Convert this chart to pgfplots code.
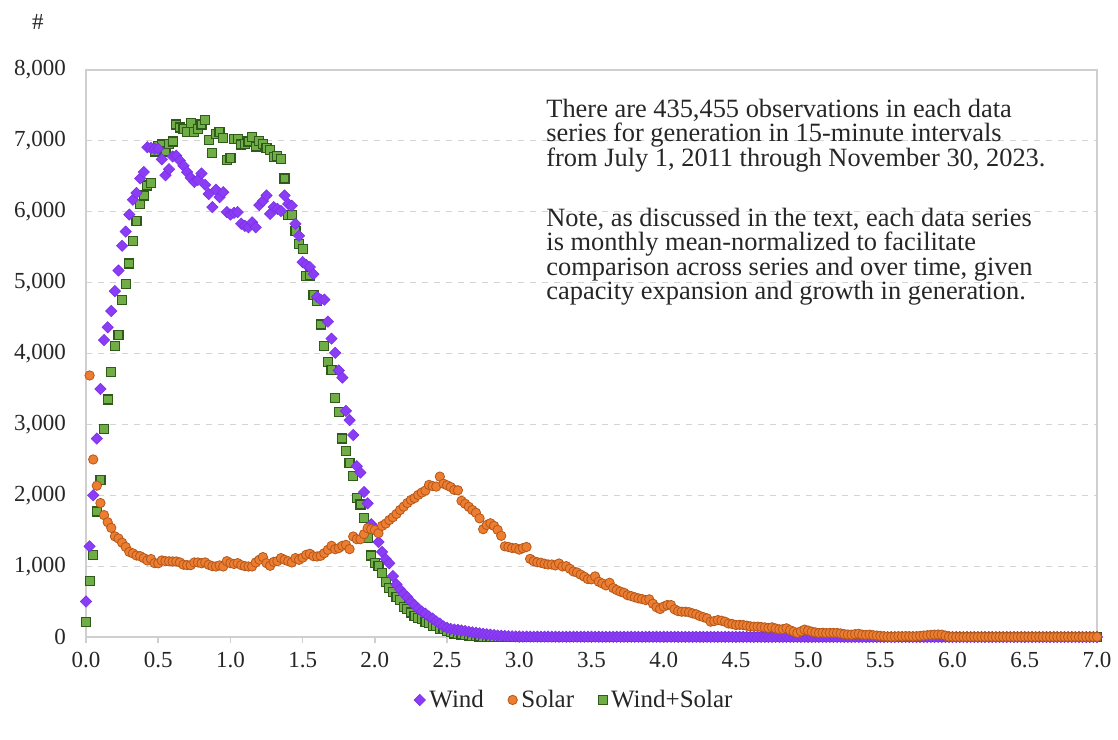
\documentclass[border=0pt]{standalone}
\usepackage{pgfplots}
\pgfplotsset{compat=1.18}
\usepackage{pgfplotstable}
\usepackage{fontspec}
\setmainfont{Liberation Serif}
\definecolor{windc}{HTML}{8B3DF5}
\definecolor{windd}{HTML}{7B30E6}
\definecolor{solarc}{HTML}{ED7D31}
\definecolor{solard}{HTML}{B4581A}
\definecolor{wsc}{HTML}{70AD47}
\definecolor{wsd}{HTML}{2E5A1A}
\definecolor{gridc}{HTML}{D4D4D4}
\definecolor{axc}{HTML}{CFCFCF}
\definecolor{txtc}{HTML}{262626}
\pgfplotstableread{
x wind solar ws
0.000 500 nan 210
0.025 1280 3690 790
0.050 2000 2505 1160
0.075 2800 2135 1770
0.100 3500 1890 2220
0.125 4190 1720 2940
0.150 4370 1620 3350
0.175 4600 1540 3740
0.200 4880 1420 4110
0.225 5170 1390 4260
0.250 5520 1330 4750
0.275 5720 1270 4980
0.300 5960 1200 5270
0.325 6170 1180 5590
0.350 6265 1150 5870
0.375 6470 1140 6110
0.400 6560 1113 6230
0.425 6910 1080 6370
0.450 6900 1100 6410
0.475 6890 1042 6850
0.500 6890 1040 6930
0.525 6740 1080 6950
0.550 6515 1070 6850
0.575 6600 1068 6960
0.600 6780 1066 6990
0.625 6790 1066 7230
0.650 6720 1052 7190
0.675 6650 1020 7170
0.700 6560 1014 7120
0.725 6480 1014 7250
0.750 6420 1052 7120
0.775 6450 1052 7170
0.800 6540 1040 7230
0.825 6380 1052 7300
0.850 6250 1019 7010
0.875 6065 1000 6830
0.900 6310 995 7100
0.925 6205 1010 7130
0.950 6275 995 7040
0.975 5995 1070 6730
1.000 5960 1042 6760
1.025 5985 1030 7030
1.050 5995 1042 7030
1.075 5830 1014 6950
1.100 5800 1000 6960
1.125 5780 995 6990
1.150 5850 995 7050
1.175 5780 1052 6920
1.200 6095 1090 7000
1.225 6150 1127 6960
1.250 6230 1042 6900
1.275 5970 1005 6870
1.300 6065 1060 6770
1.325 6040 1070 6790
1.350 6010 1113 6740
1.375 6230 1089 6470
1.400 6110 1070 5950
1.425 6085 1052 5950
1.450 5830 1113 5730
1.475 5660 1089 5550
1.500 5290 1120 5470
1.525 5250 1160 5090
1.550 5220 1174 5100
1.575 5120 1140 4820
1.600 4800 1136 4740
1.625 4760 1146 4410
1.650 4760 1183 4110
1.675 4450 1230 3880
1.700 4210 1286 3770
1.725 4010 1239 3370
1.750 3760 1254 3170
1.775 3660 1286 2800
1.800 3190 1300 2620
1.825 3060 1240 2455
1.850 2850 1418 2270
1.875 2410 1380 1960
1.900 2320 1380 1870
1.925 2045 1451 1680
1.950 1885 1535 1400
1.975 1590 1521 1150
2.000 1520 1510 1040
2.025 1340 1465 1000
2.050 1200 1568 900
2.075 1100 1600 780
2.100 1040 1650 690
2.125 860 1690 640
2.150 740 1737 560
2.175 670 1793 520
2.200 610 1840 420
2.225 560 1890 390
2.250 500 1934 345
2.275 450 1960 300
2.300 400 2005 270
2.325 360 2038 250
2.350 330 2066 210
2.375 290 2146 195
2.400 260 2130 160
2.425 220 2122 155
2.450 190 2263 115
2.475 150 2163 110
2.500 130 2140 80
2.525 115 2116 65
2.550 105 2075 50
2.575 100 2070 42
2.600 92 1921 35
2.625 85 1880 27
2.650 75 1837 20
2.675 66 1791 15
2.700 60 1753 10
2.725 52 1674 6
2.750 45 1521 3
2.775 40 1581 0
2.800 33 1605 0
2.825 27 1568 0
2.850 21 1512 0
2.875 18 1428 0
2.900 15 1279 0
2.925 12 1270 0
2.950 10 1256 0
2.975 8 1254 0
3.000 7 1233 0
3.025 6 1254 0
3.050 6 1270 0
3.075 6 1102 0
3.100 5 1070 0
3.125 5 1055 0
3.150 5 1047 0
3.175 5 1033 0
3.200 5 1023 0
3.225 5 1023 0
3.250 4 1010 0
3.275 4 1037 0
3.300 4 995 0
3.325 4 1000 0
3.350 4 963 0
3.375 4 925 0
3.400 4 910 0
3.425 4 880 0
3.450 4 851 0
3.475 4 817 0
3.500 4 814 0
3.525 4 855 0
3.550 3 780 0
3.575 3 756 0
3.600 3 728 0
3.625 3 765 0
3.650 3 690 0
3.675 3 662 0
3.700 3 640 0
3.725 3 624 0
3.750 3 590 0
3.775 3 577 0
3.800 3 560 0
3.825 3 545 0
3.850 3 535 0
3.875 3 521 0
3.900 3 531 0
3.925 3 470 0
3.950 3 420 0
3.975 3 395 0
4.000 3 430 0
4.025 3 451 0
4.050 3 451 0
4.075 3 390 0
4.100 2 365 0
4.125 2 357 0
4.150 2 357 0
4.175 2 350 0
4.200 2 333 0
4.225 2 320 0
4.250 2 296 0
4.275 2 280 0
4.300 2 263 0
4.325 2 216 0
4.350 2 225 0
4.375 2 239 0
4.400 2 230 0
4.425 2 216 0
4.450 2 190 0
4.475 2 183 0
4.500 2 169 0
4.525 2 172 0
4.550 2 169 0
4.575 2 160 0
4.600 2 150 0
4.625 1 146 0
4.650 1 146 0
4.675 1 140 0
4.700 1 136 0
4.725 1 127 0
4.750 1 136 0
4.775 1 120 0
4.800 1 108 0
4.825 1 110 0
4.850 1 122 0
4.875 1 95 0
4.900 1 75 0
4.925 1 57 0
4.950 1 80 0
4.975 1 104 0
5.000 1 90 0
5.025 1 75 0
5.050 1 65 0
5.075 1 57 0
5.100 1 60 0
5.125 1 55 0
5.150 1 58 0
5.175 1 57 0
5.200 1 57 0
5.225 1 50 0
5.250 0 40 0
5.275 0 35 0
5.300 0 33 0
5.325 0 40 0
5.350 0 45 0
5.375 0 33 0
5.400 0 30 0
5.425 0 33 0
5.450 0 25 0
5.475 0 20 0
5.500 0 15 0
5.525 0 10 0
5.550 0 5 0
5.575 0 2 0
5.600 0 5 0
5.625 0 10 0
5.650 0 8 0
5.675 0 12 0
5.700 0 10 0
5.725 0 8 0
5.750 0 10 0
5.775 0 15 0
5.800 0 20 0
5.825 0 25 0
5.850 0 30 0
5.875 0 33 0
5.900 0 35 0
5.925 0 33 0
5.950 0 20 0
5.975 0 5 0
6.000 0 3 0
6.025 0 1 0
6.050 0 1 0
6.075 0 1 0
6.100 0 1 0
6.125 0 1 0
6.150 0 1 0
6.175 0 1 0
6.200 0 1 0
6.225 0 1 0
6.250 0 1 0
6.275 0 1 0
6.300 0 1 0
6.325 0 1 0
6.350 0 1 0
6.375 0 1 0
6.400 0 1 0
6.425 0 1 0
6.450 0 1 0
6.475 0 1 0
6.500 0 1 0
6.525 0 1 0
6.550 0 1 0
6.575 0 1 0
6.600 0 1 0
6.625 0 1 0
6.650 0 1 0
6.675 0 1 0
6.700 0 1 0
6.725 0 1 0
6.750 0 1 0
6.775 0 1 0
6.800 0 1 0
6.825 0 1 0
6.850 0 1 0
6.875 0 1 0
6.900 0 1 0
6.925 0 1 0
6.950 0 1 0
6.975 0 1 0
7.000 0 1 0
}\data
\begin{document}
\begin{tikzpicture}
\useasboundingbox (-43pt,-51pt) rectangle (516pt,318.5pt);
\begin{axis}[
  scale only axis, width=505.5pt, height=283.5pt,
  xmin=0, xmax=7, ymin=0, ymax=8000,
  clip=false,
  axis line style={axc, line width=0.8pt},
  xtick={0,0.5,1,1.5,2,2.5,3,3.5,4,4.5,5,5.5,6,6.5,7},
  ytick={0,1000,2000,3000,4000,5000,6000,7000,8000},
  xtick pos=bottom, xtick align=outside,
  major tick length=3pt,
  xtick style={axc, line width=0.8pt},
  ytick style={draw=none},
  ymajorgrids, grid style={gridc, dashed, line width=0.6pt},
  tick label style={font=\fontsize{11.5}{13}\selectfont, text=txtc},
  /pgf/number format/assume math mode=true,
  xticklabel style={yshift=-1pt, /pgf/number format/fixed, /pgf/number format/fixed zerofill, /pgf/number format/precision=1},
  yticklabel style={xshift=-6.5pt, /pgf/number format/1000 sep={,}},
  scaled y ticks=false,
  legend style={draw=none, fill=none, at={(0.484,-0.111)}, anchor=center,
    font=\fontsize{12.5}{14}\selectfont, text=txtc, legend columns=-1,
    /tikz/every even column/.append style={column sep=10pt}},
  legend cell align=left,
  wind/.style={only marks, mark=square*, mark size=2pt, mark options={rotate=45, fill=windc, draw=windd, line width=0.3pt}},
  solar/.style={only marks, mark=*, mark size=2.35pt, mark options={fill=solarc, draw=solard, line width=0.4pt}},
  ws/.style={only marks, mark=square*, mark size=2.25pt, mark options={fill=wsc, draw=wsd, line width=0.6pt}},
]
\addlegendimage{wind}
\addlegendentry{Wind}
\addlegendimage{solar}
\addlegendentry{Solar}
\addlegendimage{ws}
\addlegendentry{Wind+Solar}
\addplot[ws, forget plot] table[x=x, y=ws] {\data};
\addplot[wind, forget plot] table[x=x, y=wind] {\data};
\addplot[solar, forget plot] table[x=x, y=solar] {\data};
\node[anchor=north west, inner sep=0pt, align=left, text=txtc,
  font=\fontsize{13.2}{12.25}\selectfont] at (rel axis cs:0.455,0.950)
  {There are 435,455 observations in each data\\
   series for generation in 15-minute intervals\\
   from July 1, 2011 through November 30, 2023.\\[17.75pt]
   Note, as discussed in the text, each data series\\
   is monthly mean-normalized to facilitate\\
   comparison across series and over time, given\\
   capacity expansion and growth in generation.};
\node[text=txtc, font=\fontsize{11.5}{13}\selectfont] at (rel axis cs:-0.0475,1.0847) {\#};
\end{axis}
\end{tikzpicture}
\end{document}
